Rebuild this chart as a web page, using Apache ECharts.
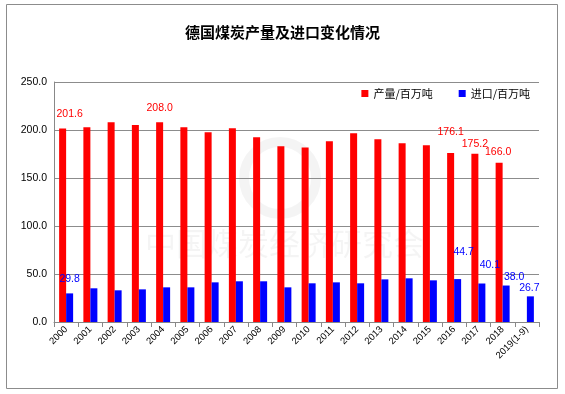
<!DOCTYPE html>
<html><head><meta charset="utf-8">
<script src="https://cdn.jsdelivr.net/npm/echarts@6/dist/echarts.min.js"></script>
<style>html,body{margin:0;padding:0;background:#fff}#c{width:565px;height:394px}</style>
</head><body><div id="c"></div>
<script>
const categories = ['2000','2001','2002','2003','2004','2005','2006','2007','2008','2009','2010','2011','2012','2013','2014','2015','2016','2017','2018','2019(1-9)'];
const production = [201.6,202.8,208.0,205.2,208.0,202.8,197.6,201.7,192.4,183.0,181.9,188.2,196.5,190.3,186.1,184.0,176.1,175.2,166.0,null];
const imports = [29.8,35.1,33.0,34.0,36.1,36.1,41.3,42.4,42.4,36.1,40.3,41.3,40.3,44.4,45.5,43.4,44.7,40.1,38.0,26.7];
const yTicks = [0,50,100,150,200,250];
const seriesNames = ['产量/百万吨','进口/百万吨'];

// label placement (style only)
const prodLabelIdx = {0:[7,-4],4:[0,-4],16:[0,-10],17:[0,1],18:[-1,0]};
const impLabelIdx = {0:[0,-4],16:[6,-16],17:[8,-8],18:[8,2],19:[-1,2]};

function build(vals, map, color){
  return vals.map((v,i)=>{
    if (map[i]) return {value:v,label:{show:true,position:'top',distance:5,offset:map[i],color:color,fontSize:10.5,fontFamily:'Liberation Sans',formatter:p=>Number(p.value).toFixed(1)}};
    return v;
  });
}
const chart = echarts.init(document.getElementById('c'));
chart.setOption({
  backgroundColor:'#fff',
  animation:false,
  title:{text:'德国煤炭产量及进口变化情况',left:'center',top:20,textStyle:{fontFamily:'Noto Sans CJK SC',fontSize:15,fontWeight:'bold',color:'#000'}},
  legend:{data:seriesNames,right:30,top:83,itemWidth:7,itemHeight:7,itemGap:26,icon:'rect',textStyle:{fontFamily:'Noto Sans CJK SC',fontSize:11,color:'#000'}},
  grid:{left:54,right:26,top:82,bottom:72},
  graphic:[
    {type:'rect',shape:{x:6.5,y:4.5,width:551,height:384},style:{fill:null,stroke:'#8c8c8c',lineWidth:1},z:-10},
    {type:'text',left:145,top:228,style:{text:'中国煤炭经济研究会',font:'31px "Noto Sans CJK SC"',fill:'rgba(0,0,0,0.045)'},z:-5},
    {type:'circle',shape:{cx:280,cy:178,r:36},style:{fill:null,stroke:'rgba(0,0,0,0.045)',lineWidth:10},z:-5}
  ],
  xAxis:{type:'category',data:categories,
    axisLine:{lineStyle:{color:'#888'}},
    axisTick:{show:true,alignWithLabel:false,lineStyle:{color:'#888'}},
    axisLabel:{rotate:45,fontSize:9.5,fontFamily:'Liberation Sans',color:'#000',interval:0,margin:6}},
  yAxis:{type:'value',min:0,max:250,interval:50,
    axisLine:{show:true,lineStyle:{color:'#888'}},
    axisTick:{show:false},
    splitLine:{lineStyle:{color:'#8c8c8c'}},
    axisLabel:{fontSize:10.5,fontFamily:'Liberation Sans',color:'#000',margin:7,formatter:v=>v.toFixed(1)}},
  series:[
    {name:seriesNames[0],type:'bar',data:build(production,prodLabelIdx,'#ff0000'),barWidth:7,barGap:'0%',itemStyle:{color:'#ff0000'}},
    {name:seriesNames[1],type:'bar',data:build(imports,impLabelIdx,'#0000ff'),barWidth:7,barGap:'0%',itemStyle:{color:'#0000ff'}}
  ]
});
</script></body></html>
